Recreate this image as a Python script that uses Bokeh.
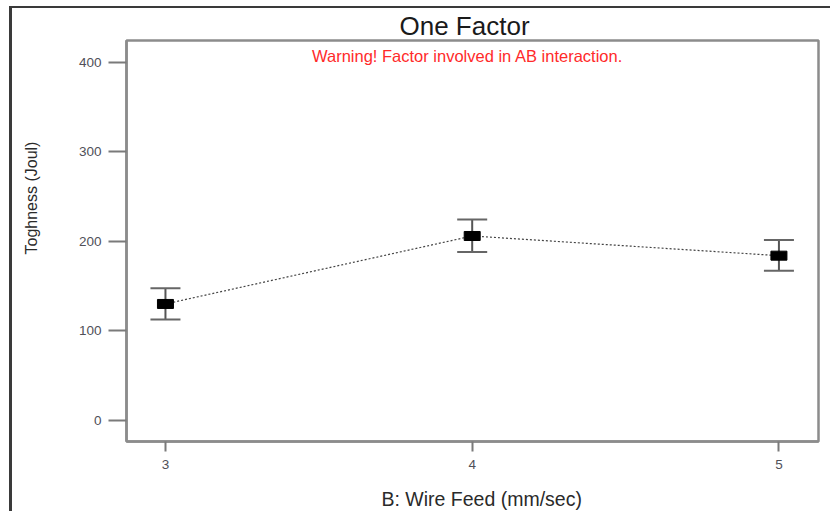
import math
from bokeh.plotting import figure
from bokeh.models import (ColumnDataSource, Range1d, FixedTicker, Whisker, TeeHead,
                          Label, Title)
from bokeh.embed import file_html
from bokeh.resources import INLINE

# ---- data ----
wire_feed = [3, 4, 5]
toughness = [130, 206, 184]
tough_lower = [112.5, 188, 167]
tough_upper = [147.5, 224.5, 201.5]
y_ticks = [0, 100, 200, 300, 400]
x_ticks = [3, 4, 5]

FONT = "Liberation Sans"

src = ColumnDataSource(dict(x=wire_feed, y=toughness, lo=tough_lower, hi=tough_upper))

p = figure(frame_width=692, frame_height=401, output_backend="svg", toolbar_location=None,
           x_range=Range1d(2.873, 5.129), y_range=Range1d(-23.8, 424.6),
           min_border_left=114, min_border_right=12, min_border_top=0,
           min_border_bottom=0)
p.margin = (6, 0, 0, 9)
p.styles = {"border-left": "3px solid #3a3a3a", "border-top": "2px solid #3a3a3a"}

p.add_layout(Title(text="One Factor", align="left", offset=273, vertical_align="bottom",
                   text_font=FONT, text_font_size="26px", text_font_style="normal",
                   text_color="#1a1a1a", standoff=0), "above")

p.xgrid.visible = False
p.ygrid.visible = False
p.outline_line_color = "#8c8c8c"
p.outline_line_width = 2.5
p.background_fill_color = "white"
p.border_fill_color = "white"

for ax in (p.xaxis[0], p.yaxis[0]):
    ax.axis_line_color = "#8c8c8c"
    ax.axis_line_width = 2.5
    ax.major_tick_line_color = "#7a7a7a"
    ax.major_tick_line_width = 2
    ax.minor_tick_line_color = None
    ax.major_tick_in = 0
    ax.major_label_text_font = FONT
    ax.major_label_text_font_size = "13.5px"
    ax.major_label_text_color = "#505058"
    # invisible spacer label to push the axis titles outward
    ax.axis_label = "\u00a0"
    ax.axis_label_text_font_size = "1px"

p.yaxis.ticker = FixedTicker(ticks=y_ticks)
p.yaxis.major_tick_out = 18
p.yaxis.major_label_standoff = 7
p.yaxis.axis_label_standoff = 20

p.xaxis.ticker = FixedTicker(ticks=x_ticks)
p.xaxis.major_tick_out = 10
p.xaxis.major_label_standoff = 8
p.xaxis.axis_label_standoff = 12

# axis titles as side titles (allow off-centre placement like the reference)
p.add_layout(Title(text="B: Wire Feed (mm/sec)", align="left", offset=255,
                   vertical_align="top",
                   text_font=FONT, text_font_size="19.5px", text_font_style="normal",
                   text_color="#2a2a2a", standoff=0), "below")
p.add_layout(Title(text="Toghness (Joul)", align="left", offset=187,
                   vertical_align="top",
                   text_font=FONT, text_font_size="16px", text_font_style="normal",
                   text_color="#2a2a2a", standoff=20), "left")

# dotted connecting line
p.line("x", "y", source=src, line_color="#444444", line_dash="2 2", line_width=1.2)

# error bars
wh = Whisker(base="x", lower="lo", upper="hi", source=src,
             line_color="#555555", line_width=2,
             upper_head=TeeHead(size=30, line_color="#666666", line_width=2),
             lower_head=TeeHead(size=30, line_color="#666666", line_width=2))
p.add_layout(wh)

# markers
p.rect("x", "y", source=src, width=16, height=9, width_units="screen",
       height_units="screen", fill_color="black", line_color="black")

# warning text
p.add_layout(Label(x=3.985, y=407, text="Warning! Factor involved in AB interaction.",
                   text_font=FONT, text_font_size="16.5px", text_color="#ff2a2a",
                   text_align="center", text_baseline="middle"))

open("out.html", "w").write(file_html(p, INLINE))
